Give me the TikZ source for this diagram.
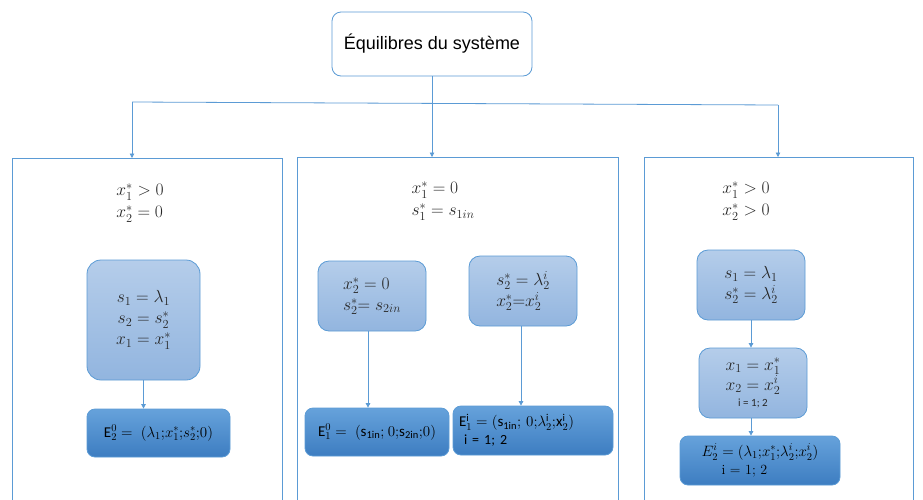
\documentclass[tikz,border=0pt]{standalone}
\usepackage{fix-cm}
\usepackage{fontspec}
\setmainfont{Carlito}
\newfontfamily\arialf{Liberation Sans}
\newfontfamily\lmr{Latin Modern Roman}
\usetikzlibrary{arrows.meta}
\definecolor{bline}{HTML}{5B9BD5}
\definecolor{ltop}{HTML}{B5CDEA}
\definecolor{lbot}{HTML}{92B5DF}
\definecolor{dtop}{HTML}{66A2DB}
\definecolor{dbot}{HTML}{3D7DC1}
\definecolor{txt}{HTML}{262626}
\tikzset{
  conn/.style={draw=bline, line width=0.8pt},
  arr/.style={conn, -{Triangle[length=4.5pt,width=4.5pt]}},
  panel/.style={draw=bline, line width=0.8pt, anchor=north west, inner sep=0pt},
  topbox/.style={draw=bline, line width=0.8pt, rounded corners=9pt, fill=white,
    minimum width=200pt, minimum height=64pt, font=\arialf\fontsize{18}{20}\selectfont, text=black},
  cond/.style={align=left, font=\fontsize{17.5}{22}\selectfont, text=txt},
  lbox/.style={draw=bline, line width=0.8pt, rounded corners=11pt, top color=ltop, bottom color=lbot,
    minimum width=108pt, minimum height=70pt, font=\fontsize{17.5}{21}\selectfont, text=txt, inner sep=2pt},
  dbox/.style={draw=bline, line width=0.8pt, rounded corners=8pt, top color=dtop, bottom color=dbot,
    minimum height=48pt, font=\fontsize{15}{17}\selectfont, text=black, inner sep=2pt},
}
\begin{document}
\begin{tikzpicture}[x=1pt,y=-1pt]
\useasboundingbox (0,0) rectangle (923,499);
\clip (0,0) rectangle (923,499);
\fill[white] (0,0) rectangle (923,499);

% top
\node[topbox] (top) at (432,44) {Équilibres du système};

% panels
\node[panel, minimum width=270pt, minimum height=370pt] (p1) at (12,158) {};
\node[panel, minimum width=321pt, minimum height=370pt] (p2) at (297,157) {};
\node[panel, minimum width=269pt, minimum height=370pt] (p3) at (644,157) {};

% connectors top
\coordinate (hl) at (132,102);
\coordinate (hr) at (778,105);
\draw[conn] (hl) -- (hr);
\draw[arr] (top.south) -- (top.south |- p2.north);
\draw[arr] (hl) -- (hl |- p1.north);
\draw[arr] (hr) -- (hr |- p3.north);

% conditions
\node[cond] (c1) at (140,203) {$x_1^* > 0$\\$x_2^* = 0$};
\node[cond] (c2) at (443,201) {$x_1^* = 0$\\$s_1^* = s_{1in}$};
\node[cond] (c3) at (746,201) {$x_1^* > 0$\\$x_2^* > 0$};

% panel 1
\node[lbox, minimum width=113pt, minimum height=120pt, rounded corners=14pt, align=center] (l1) at (143.5,320)
  {$s_1 = \lambda_1$\\$s_2 = s_2^*$\\$x_1 = x_1^*$};
\node[dbox, minimum width=143pt] (d1) at (158.5,433)
  {$\mathrm{E}_2^0 =\; (\lambda_1{;}x_1^*{;}s_2^*{;}0)$};
\draw[arr] (l1.south) -- (l1.south |- d1.north);

% panel 2
\node[lbox, align=left] (l2a) at (372,296)
  {$x_2^* = 0$\\$s_2^* {=}\; s_{2in}$};
\node[lbox, align=left] (l2b) at (523,291)
  {$s_2^* = \lambda_2^i$\\$x_2^*{=}x_2^i$};
\node[dbox, minimum width=144pt] (d2a) at (377,432)
  {$\mathrm{E}_1^0 =\; (\mathrm{s}_{\mathrm{1in}}{;}\ 0{;}\mathrm{s}_{\mathrm{2in}}{;}0)$};
\node[dbox, minimum width=160pt, align=left, text width=148pt, minimum height=49pt] (d2b) at (533,430.5)
  {$\mathrm{E}_1^{\mathrm{i}} = (\mathrm{s}_{\mathrm{1in}}{;}\ 0{;}\lambda_2^{\mathrm{i}}{;}\mathrm{x}_2^{\mathrm{i}})$\\[1pt]
   {\fontsize{14}{15}\selectfont\ i = 1; 2}};
\draw[arr] ([xshift=-4pt]l2a.south) -- ([xshift=-4pt]l2a.south |- d2a.north);
\draw[arr] ([xshift=-2pt]l2b.south) -- ([xshift=-2pt]l2b.south |- d2b.north);

% panel 3
\node[lbox, align=center] (l3a) at (751,285)
  {$s_1 = \lambda_1$\\$s_2^* = \lambda_2^i$};
\node[lbox, align=center] (l3b) at (753,383)
  {$x_1 = x_1^*$\\[-1pt]$x_2 = x_2^i$\\[-5pt]{\fontsize{11}{12}\selectfont i = 1; 2}};
\node[dbox, minimum width=160pt, minimum height=49pt, align=left] (d3) at (760,460.5)
  {$E_2^i = (\lambda_1{;}x_1^*{;}\lambda_2^i{;}x_2^i)$\\[1pt]
   \hspace{20pt}{\lmr\fontsize{14}{15}\selectfont i = 1; 2}};
\draw[arr] (l3a.south) -- (l3a.south |- l3b.north);
\draw[arr] (l3a.south |- l3b.south) -- (l3a.south |- d3.north);
\end{tikzpicture}
\end{document}
